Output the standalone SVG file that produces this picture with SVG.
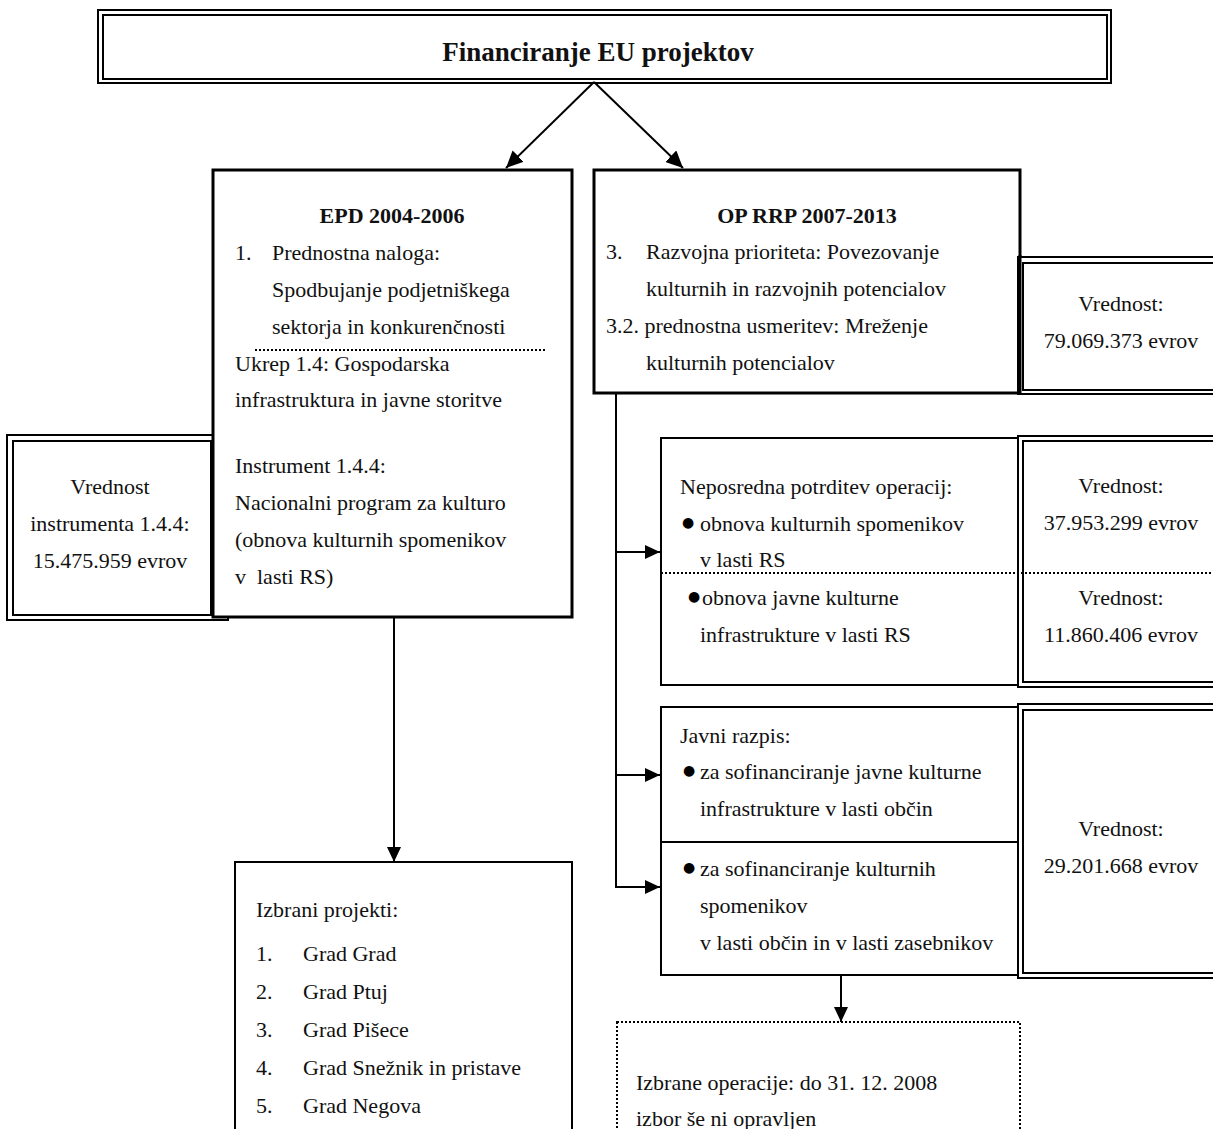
<svg xmlns="http://www.w3.org/2000/svg" width="1213" height="1129" viewBox="0 0 1213 1129">
<defs>
<style>
.t{font-family:"Liberation Serif","Times New Roman",serif;font-size:22px;fill:#111}
.b{font-weight:bold}
.c{text-anchor:middle}
.bu{font-family:"DejaVu Sans",sans-serif;font-size:14px;fill:#000}
.thick{fill:#fff;stroke:#000;stroke-width:3}
.thin{fill:#fff;stroke:#000;stroke-width:2}
.dbl{fill:none;stroke:#000;stroke-width:2}
.dot{fill:none;stroke:#000;stroke-width:2;stroke-dasharray:2 2}
.ln{fill:none;stroke:#000;stroke-width:2}
</style>
<marker id="ah" markerUnits="userSpaceOnUse" markerWidth="16" markerHeight="14" refX="15" refY="7" orient="auto">
<path d="M0,0 L15,7 L0,14 z" fill="#000"/>
</marker>
<marker id="ah2" markerUnits="userSpaceOnUse" markerWidth="18" markerHeight="16" refX="17" refY="8" orient="auto">
<path d="M0,0 L17,8 L0,16 z" fill="#000"/>
</marker>
</defs>
<rect width="1213" height="1129" fill="#fff"/>

<g id="connectors">
<line class="ln" x1="594" y1="82" x2="506" y2="168" marker-end="url(#ah2)"/>
<line class="ln" x1="594" y1="82" x2="683" y2="168" marker-end="url(#ah2)"/>
<line class="ln" x1="394" y1="618" x2="394" y2="862" marker-end="url(#ah)"/>
<polyline class="ln" points="616,393 616,887"/>
<line class="ln" x1="615" y1="552" x2="660" y2="552" marker-end="url(#ah)"/>
<line class="ln" x1="615" y1="775" x2="660" y2="775" marker-end="url(#ah)"/>
<line class="ln" x1="615" y1="887" x2="660" y2="887" marker-end="url(#ah)"/>
<line class="ln" x1="841" y1="976" x2="841" y2="1022" marker-end="url(#ah)"/>
</g>

<g id="title">
<rect class="dbl" x="98" y="10" width="1013" height="73"/>
<rect class="dbl" x="103" y="15" width="1004" height="64"/>
<text class="t b c" x="598" y="61" style="font-size:27px">Financiranje EU projektov</text>
</g>

<g id="value-epd">
<rect x="7" y="435" width="221" height="185" fill="#fff" stroke="#000" stroke-width="2"/>
<rect class="dbl" x="13" y="441" width="198" height="174"/>
<text class="t c" x="110" y="494">Vrednost</text>
<text class="t c" x="110" y="531">instrumenta 1.4.4:</text>
<text class="t c" x="110" y="568">15.475.959 evrov</text>
</g>

<g id="epd">
<rect class="thick" x="213" y="170" width="359" height="447"/>
<text class="t b c" x="392" y="223">EPD 2004-2006</text>
<text class="t" x="235" y="260">1.</text>
<text class="t" x="272" y="260">Prednostna naloga:</text>
<text class="t" x="272" y="297">Spodbujanje podjetniškega</text>
<text class="t" x="272" y="334">sektorja in konkurenčnosti</text>
<line class="dot" x1="255" y1="350" x2="547" y2="350"/>
<text class="t" x="235" y="371">Ukrep 1.4: Gospodarska</text>
<text class="t" x="235" y="407">infrastruktura in javne storitve</text>
<text class="t" x="235" y="473">Instrument 1.4.4:</text>
<text class="t" x="235" y="510">Nacionalni program za kulturo</text>
<text class="t" x="235" y="547">(obnova kulturnih spomenikov</text>
<text class="t" x="235" y="584" xml:space="preserve">v  lasti RS)</text>
</g>

<g id="oprrp">
<rect class="thick" x="594" y="170" width="426" height="223"/>
<text class="t b c" x="807" y="223">OP RRP 2007-2013</text>
<text class="t" x="606" y="259">3.</text>
<text class="t" x="646" y="259">Razvojna prioriteta: Povezovanje</text>
<text class="t" x="646" y="296">kulturnih in razvojnih potencialov</text>
<text class="t" x="606" y="333">3.2. prednostna usmeritev: Mreženje</text>
<text class="t" x="646" y="370">kulturnih potencialov</text>
</g>

<g id="value-oprrp">
<rect x="1018" y="257" width="210" height="137" fill="#fff" stroke="#000" stroke-width="2"/>
<rect class="dbl" x="1023" y="263" width="200" height="127"/>
<line x1="1020" y1="255" x2="1020" y2="395" stroke="#000" stroke-width="3"/>
<text class="t c" x="1121" y="311">Vrednost:</text>
<text class="t c" x="1121" y="348">79.069.373 evrov</text>
</g>

<g id="neposredna">
<rect class="thin" x="661" y="438" width="358" height="247"/>
<text class="t" x="680" y="494">Neposredna potrditev operacij:</text>
<text class="bu" x="682" y="527">●</text>
<text class="t" x="700" y="531">obnova kulturnih spomenikov</text>
<text class="t" x="700" y="567">v lasti RS</text>
<text class="bu" x="688" y="601">●</text>
<text class="t" x="702" y="605">obnova javne kulturne</text>
<text class="t" x="700" y="642">infrastrukture v lasti RS</text>
</g>

<g id="value-neposredna">
<rect x="1018" y="436" width="210" height="251" fill="#fff" stroke="#000" stroke-width="2"/>
<rect class="dbl" x="1023" y="441" width="200" height="241"/>
<text class="t c" x="1121" y="493">Vrednost:</text>
<text class="t c" x="1121" y="530">37.953.299 evrov</text>
<text class="t c" x="1121" y="605">Vrednost:</text>
<text class="t c" x="1121" y="642">11.860.406 evrov</text>
</g>
<line class="dot" x1="661" y1="573" x2="1213" y2="573"/>

<g id="javni">
<rect class="thin" x="661" y="707" width="358" height="268"/>
<line class="ln" x1="661" y1="842" x2="1019" y2="842"/>
<text class="t" x="680" y="743">Javni razpis:</text>
<text class="bu" x="683" y="775">●</text>
<text class="t" x="700" y="779">za sofinanciranje javne kulturne</text>
<text class="t" x="700" y="816">infrastrukture v lasti občin</text>
<text class="bu" x="683" y="872">●</text>
<text class="t" x="700" y="876">za sofinanciranje kulturnih</text>
<text class="t" x="700" y="913">spomenikov</text>
<text class="t" x="700" y="950">v lasti občin in v lasti zasebnikov</text>
</g>

<g id="value-javni">
<rect x="1018" y="704" width="210" height="274" fill="#fff" stroke="#000" stroke-width="2"/>
<rect class="dbl" x="1023" y="710" width="200" height="263"/>
<text class="t c" x="1121" y="836">Vrednost:</text>
<text class="t c" x="1121" y="873">29.201.668 evrov</text>
</g>

<g id="izbrani">
<rect class="thin" x="235" y="862" width="337" height="280"/>
<text class="t" x="256" y="917">Izbrani projekti:</text>
<text class="t" x="256" y="961">1.</text>
<text class="t" x="303" y="961">Grad Grad</text>
<text class="t" x="256" y="999">2.</text>
<text class="t" x="303" y="999">Grad Ptuj</text>
<text class="t" x="256" y="1037">3.</text>
<text class="t" x="303" y="1037">Grad Pišece</text>
<text class="t" x="256" y="1075">4.</text>
<text class="t" x="303" y="1075">Grad Snežnik in pristave</text>
<text class="t" x="256" y="1113">5.</text>
<text class="t" x="303" y="1113">Grad Negova</text>
</g>

<g id="izbrane-operacije">
<rect class="dot" x="617" y="1022" width="403" height="120"/>
<text class="t" x="636" y="1090">Izbrane operacije: do 31. 12. 2008</text>
<text class="t" x="636" y="1126">izbor še ni opravljen</text>
</g>
</svg>
